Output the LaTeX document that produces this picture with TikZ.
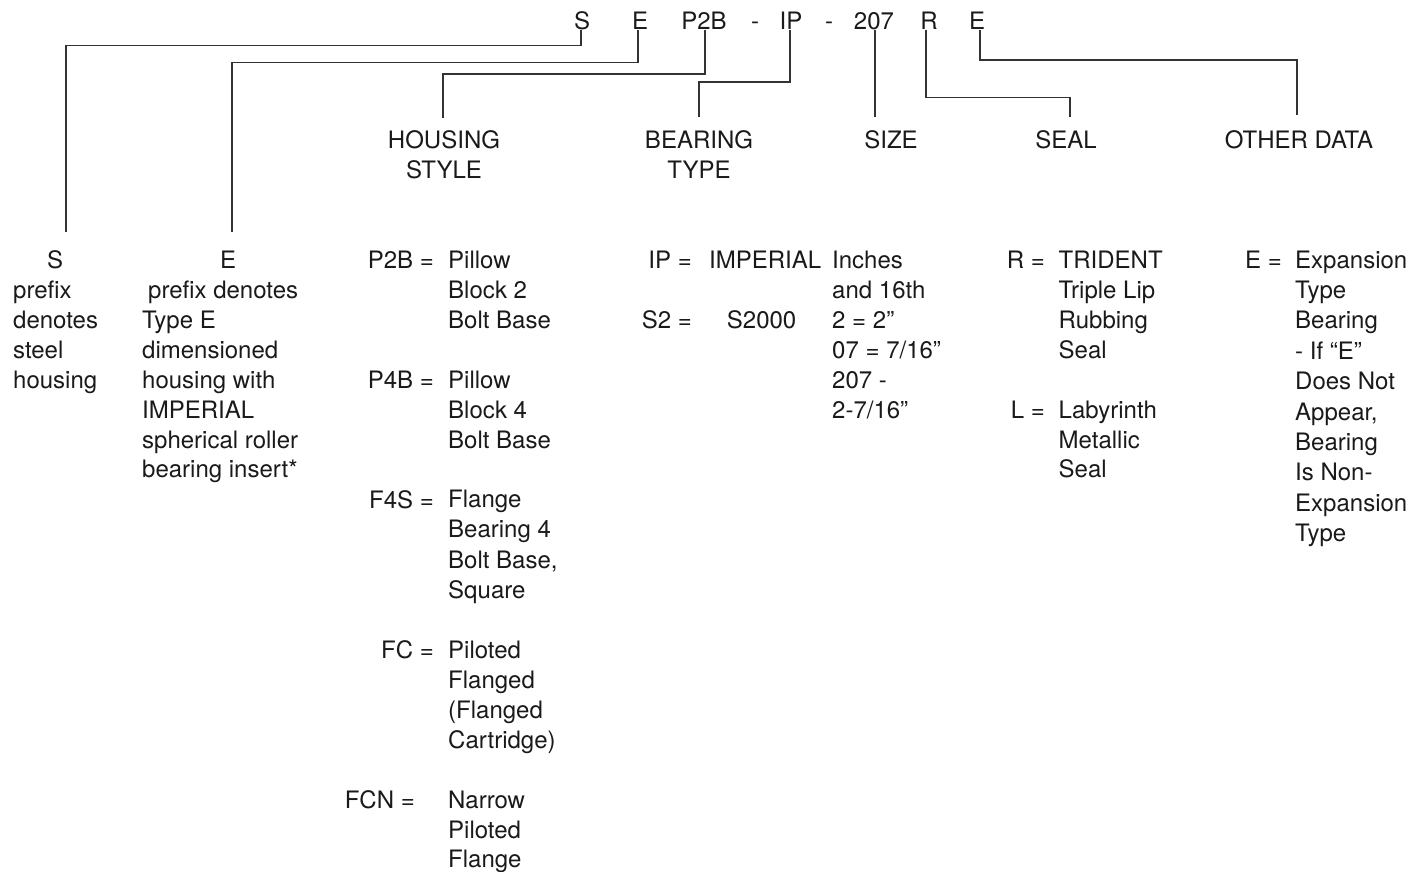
\documentclass[tikz,border=0pt]{standalone}
\usepackage{fontspec}
\setmainfont{TeX Gyre Heros}
\definecolor{ink}{HTML}{1A1A1A}
\definecolor{wire}{HTML}{333333}
\newcommand\rowsL[2][30pt]{\vtop{\baselineskip=#1\lineskiplimit=-100pt\lineskip=0pt\halign{##\hfil\cr#2\crcr}}}
\newcommand\rowsC[2][30pt]{\vtop{\baselineskip=#1\lineskiplimit=-100pt\lineskip=0pt\halign{\hfil##\hfil\cr#2\crcr}}}
\begin{document}
\begin{tikzpicture}[x=1pt,y=-1pt,
  txt/.style={inner sep=0pt, text=ink, font=\fontsize{24}{30}\selectfont},
  conn/.style={draw=wire, line width=1.3pt}]
\fill[white] (0,0) rectangle (1422,872);
\useasboundingbox (0,0) rectangle (1422,872);
% code
\node[txt,anchor=base] (cS) at (582,29.5) {S};
\node[txt,anchor=base] (cE) at (640,29.5) {E};
\node[txt,anchor=base] (cP) at (704,29.5) {P2B};
\node[txt,anchor=base] (cD1) at (755,29.5) {-};
\node[txt,anchor=base] (cIP) at (791,29.5) {IP};
\node[txt,anchor=base] (cD2) at (829,29.5) {-};
\node[txt,anchor=base] (cSz) at (874,29.5) {207};
\node[txt,anchor=base] (cR) at (929,29.5) {R};
\node[txt,anchor=base] (cE2) at (977,29.5) {E};
% headings
\node[txt,anchor=base] (hHS) at (444,148.3) {\rowsC{HOUSING\cr STYLE}};
\node[txt,anchor=base] (hBT) at (699,148.3) {\rowsC{BEARING\cr TYPE}};
\node[txt,anchor=base] (hSZ) at (891,148.3) {SIZE};
\node[txt,anchor=base] (hSL) at (1066,148.3) {SEAL};
\node[txt,anchor=base] (hOD) at (1299,148.3) {OTHER DATA};
% connector ends
\coordinate (eS) at (66,232);
\coordinate (eE) at (232,232);
\coordinate (eHS) at (443,118);
\coordinate (eBT) at (699,117);
\coordinate (eSZ) at (875,117);
\coordinate (eSL) at (1070,117);
\coordinate (eOD) at (1297,115);
% connectors
\draw[conn] ([xshift=-1pt]cS.south) |- (66,45.7) -- (eS);
\draw[conn] ([xshift=-2pt]cE.south) |- (232,62.3) -- (eE);
\draw[conn] ([xshift=1pt]cP.south) |- (443,74) -- (eHS);
\draw[conn] ([xshift=-1pt]cIP.south) |- (699,82) -- (eBT);
\draw[conn] ([xshift=1pt]cSz.south) -- (eSZ);
\draw[conn] ([xshift=-3pt]cR.south) |- (1070,97.7) -- (eSL);
\draw[conn] ([xshift=3pt]cE2.south) |- (1297,60) -- (eOD);
% S and E columns
\node[txt,anchor=base west] (colS) at (13,268) {\rowsL{\hspace*{34pt}S\cr prefix\cr denotes\cr steel\cr housing}};
\node[txt,anchor=base west] (colE) at (142,268) {\rowsL{\hspace*{78pt}E\cr \hspace*{6pt}prefix denotes\cr Type E\cr dimensioned\cr housing with\cr IMPERIAL\cr spherical roller\cr bearing insert*}};
% housing style
\node[txt,anchor=base east] (kP2B) at (434,268) {P2B =};
\node[txt,anchor=base east] (kP4B) at (434,388) {P4B =};
\node[txt,anchor=base east] (kF4S) at (434,508) {F4S =};
\node[txt,anchor=base east] (kFC) at (434,658) {FC =};
\node[txt,anchor=base east] (kFCN) at (415,808) {FCN =};
\node[txt,anchor=base west] (vHS) at (448,268) {\rowsL{Pillow\cr Block 2\cr Bolt Base\cr\cr Pillow\cr Block 4\cr Bolt Base\cr\cr Flange\cr Bearing 4\cr Bolt Base,\cr Square\cr\cr Piloted\cr Flanged\cr (Flanged\cr Cartridge)\cr\cr Narrow\cr Piloted\cr Flange}};
% bearing type
\node[txt,anchor=base east] (kIP) at (692,268) {IP =};
\node[txt,anchor=base west] (vIP) at (709,268) {IMPERIAL};
\node[txt,anchor=base west] (kS2) at (641.7,328) {S2 =};
\node[txt,anchor=base west] (vS2) at (726.7,328) {S2000};
% size
\node[txt,anchor=base west] (vSZ) at (832,268) {\rowsL{Inches\cr and 16th\cr 2 = 2”\cr 07 = 7/16”\cr 207 -\cr 2-7/16”}};
% seal
\node[txt,anchor=base east] (kR) at (1045,268) {R =};
\node[txt,anchor=base east] (kL) at (1045,418) {L =};
\node[txt,anchor=base west] (vSL) at (1058.5,268) {\rowsL{TRIDENT\cr Triple Lip\cr Rubbing\cr Seal\cr\cr Labyrinth\cr Metallic\cr Seal}};
% other data
\node[txt,anchor=base east] (kE) at (1282,268) {E =};
\node[txt,anchor=base west] (vOD) at (1295,268) {\rowsL[30.4pt]{Expansion\cr Type\cr Bearing\cr - If “E”\cr Does Not\cr Appear,\cr Bearing\cr Is Non-\cr Expansion\cr Type}};
\end{tikzpicture}
\end{document}
